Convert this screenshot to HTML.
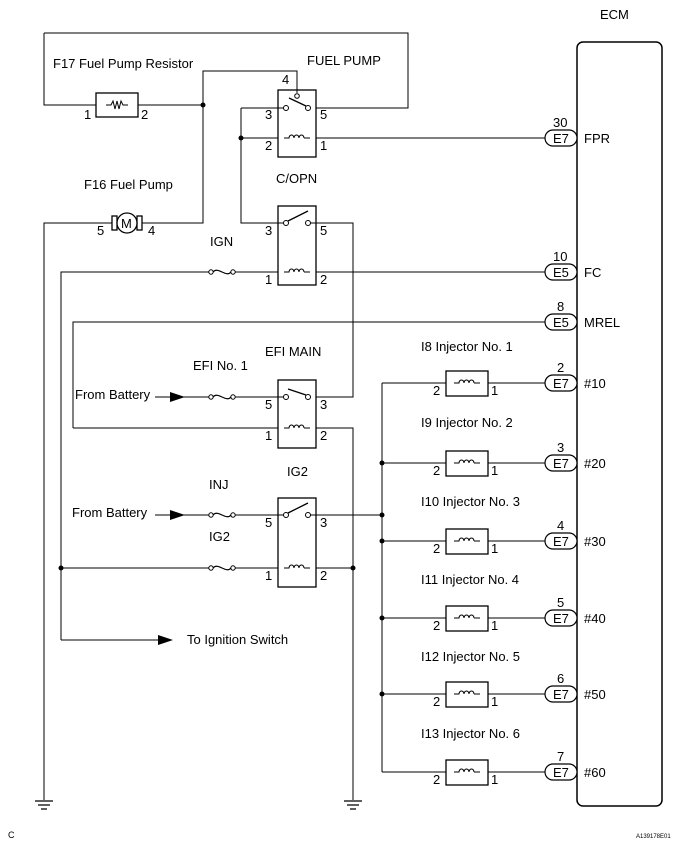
<!DOCTYPE html>
<html><head><meta charset="utf-8"><style>
html,body{margin:0;padding:0;background:#fff;}
svg{display:block;font-family:"Liberation Sans",Arial,sans-serif;}
text{font-size:13px;fill:#000;}
.s{font-size:13px;}
</style></head><body>
<svg width="691" height="849" viewBox="0 0 691 849" xmlns="http://www.w3.org/2000/svg">
<defs>
<g id="coil"><path d="M-13,0 H-8 a2.5,3 0 0 1 5,0 a2.5,3 0 0 1 5,0 a2.5,3 0 0 1 5,0 a2.5,3 0 0 1 0,0 M7,0 H13" fill="none" stroke="#000" stroke-width="1"/></g>
<g id="fuse"><circle cx="-11" cy="0" r="2.2" fill="#fff" stroke="#000"/><circle cx="11" cy="0" r="2.2" fill="#fff" stroke="#000"/><path d="M-9,0 C-4,-6 4,6 9,0" fill="none" stroke="#000" stroke-width="1.2"/></g>
<g id="conn"><rect x="-16" y="-8" width="32" height="16" rx="8" fill="#fff" stroke="#000" stroke-width="1.2"/></g>
<g id="gnd"><path d="M-9,0 H9 M-6,4 H6 M-3,8 H3" stroke="#000" stroke-width="1.3"/></g>
</defs>
<g fill="none" stroke="#000" stroke-width="1">
<rect x="577" y="42" width="85" height="764" rx="6" stroke-width="1.5"/>
<path d="M44,33 H408 V108 H316"/>
<path d="M44,33 V105 H96 M138,105 H203"/>
<rect x="96" y="93" width="42" height="24" stroke-width="1.3"/>
<path d="M203,105 V71 H297 V93"/>
<rect x="278" y="90" width="38" height="67" stroke-width="1.3"/>
<path d="M241,108 H284 M241,108 V223 H284 M241,138 H278 M316,138 H561"/>
<path d="M44,800 V223 H113 M141,223 H203 V105"/>
<rect x="278" y="206" width="38" height="79" stroke-width="1.3"/>
<path d="M310,223 H353 V397 H316"/>
<path d="M61,640 V272 H211 M233,272 H278 M316,272 H561"/>
<path d="M73,428 V322 H561"/>
<path d="M73,428 H278 M316,428 H353 V800"/>
<rect x="278" y="380" width="38" height="68" stroke-width="1.3"/>
<path d="M155,397 H211 M233,397 H284"/>
<rect x="278" y="498" width="38" height="89" stroke-width="1.3"/>
<path d="M155,515 H211 M233,515 H284 M310,515 H382"/>
<path d="M61,568 H211 M233,568 H278 M316,568 H353"/>
<path d="M61,640 H160"/>
<path d="M382,383 V772"/>
<path d="M382,383 H446 M488,383 H561 M382,463 H446 M488,463 H561 M382,541 H446 M488,541 H561 M382,618 H446 M488,618 H561 M382,694 H446 M488,694 H561 M382,772 H446 M488,772 H561"/>
<g stroke-width="1.3">
<rect x="446" y="371" width="42" height="25"/><rect x="446" y="451" width="42" height="25"/><rect x="446" y="529" width="42" height="25"/><rect x="446" y="606" width="42" height="25"/><rect x="446" y="682" width="42" height="25"/><rect x="446" y="760" width="42" height="25"/>
</g>
</g>
<g fill="#fff" stroke="#000" stroke-width="1">
<circle cx="286" cy="108" r="2.5"/><circle cx="308" cy="108" r="2.5"/><path d="M289,98 L306,106" fill="none" stroke-width="1.3"/><circle cx="297" cy="96" r="2.3"/>
<circle cx="286" cy="223" r="2.5"/><circle cx="308" cy="223" r="2.5"/><path d="M288,221 L308,211" fill="none" stroke-width="1.3"/>
<circle cx="286" cy="397" r="2.5"/><circle cx="308" cy="397" r="2.5"/><path d="M288,389 L306,395" fill="none" stroke-width="1.3"/>
<circle cx="286" cy="515" r="2.5"/><circle cx="308" cy="515" r="2.5"/><path d="M288,513 L308,503" fill="none" stroke-width="1.3"/>
</g>
<path d="M106,105 H111 l2,-4 2,8 2,-8 2,8 2,-8 2,4 H128" fill="none" stroke="#000"/>
<g fill="#fff" stroke="#000" stroke-width="1.3">
<rect x="112" y="216" width="5" height="14"/><rect x="137" y="216" width="5" height="14"/>
<circle cx="127" cy="223" r="10"/>
</g>
<text x="121" y="228" class="s">M</text>
<use href="#coil" x="297" y="138"/><use href="#coil" x="297" y="272"/><use href="#coil" x="297" y="428"/><use href="#coil" x="297" y="568"/>
<use href="#coil" x="467" y="383"/><use href="#coil" x="467" y="463"/><use href="#coil" x="467" y="541"/><use href="#coil" x="467" y="618"/><use href="#coil" x="467" y="694"/><use href="#coil" x="467" y="772"/>
<use href="#fuse" x="222" y="272"/><use href="#fuse" x="222" y="397"/><use href="#fuse" x="222" y="515"/><use href="#fuse" x="222" y="568"/>
<path d="M170,392 L185,397 L170,402 Z M170,510 L185,515 L170,520 Z M158,635 L173,640 L158,645 Z" fill="#000"/>
<g fill="#000"><circle cx="203" cy="105" r="2.5"/><circle cx="241" cy="138" r="2.5"/><circle cx="61" cy="568" r="2.5"/><circle cx="353" cy="568" r="2.5"/><circle cx="382" cy="463" r="2.5"/><circle cx="382" cy="515" r="2.5"/><circle cx="382" cy="541" r="2.5"/><circle cx="382" cy="618" r="2.5"/><circle cx="382" cy="694" r="2.5"/></g>
<use href="#gnd" x="44" y="801"/><use href="#gnd" x="353" y="801"/>
<use href="#conn" x="561" y="138"/><use href="#conn" x="561" y="272"/><use href="#conn" x="561" y="322"/>
<use href="#conn" x="561" y="383"/><use href="#conn" x="561" y="463"/><use href="#conn" x="561" y="541"/><use href="#conn" x="561" y="618"/><use href="#conn" x="561" y="694"/><use href="#conn" x="561" y="772"/>
<g class="s">
<text x="553" y="143">E7</text><text x="553" y="277">E5</text><text x="553" y="327">E5</text>
<text x="553" y="388">E7</text><text x="553" y="468">E7</text><text x="553" y="546">E7</text><text x="553" y="623">E7</text><text x="553" y="699">E7</text><text x="553" y="777">E7</text>
<text x="553" y="127">30</text><text x="553" y="261">10</text><text x="557" y="311">8</text>
<text x="557" y="372">2</text><text x="557" y="452">3</text><text x="557" y="530">4</text><text x="557" y="607">5</text><text x="557" y="683">6</text><text x="557" y="761">7</text>
<text x="584" y="143">FPR</text><text x="584" y="277">FC</text><text x="584" y="327">MREL</text>
<text x="584" y="388">#10</text><text x="584" y="468">#20</text><text x="584" y="546">#30</text><text x="584" y="623">#40</text><text x="584" y="699">#50</text><text x="584" y="777">#60</text>
<text x="600" y="19">ECM</text>
<text x="53" y="68">F17 Fuel Pump Resistor</text>
<text x="307" y="65">FUEL PUMP</text>
<text x="84" y="119">1</text><text x="141" y="119">2</text>
<text x="282" y="84">4</text>
<text x="265" y="119">3</text><text x="320" y="119">5</text><text x="265" y="150">2</text><text x="320" y="150">1</text>
<text x="84" y="189">F16 Fuel Pump</text>
<text x="276" y="183">C/OPN</text>
<text x="97" y="235">5</text><text x="148" y="235">4</text>
<text x="210" y="246">IGN</text>
<text x="265" y="235">3</text><text x="320" y="235">5</text><text x="265" y="284">1</text><text x="320" y="284">2</text>
<text x="265" y="356">EFI MAIN</text>
<text x="193" y="370">EFI No. 1</text>
<text x="75" y="399">From Battery</text>
<text x="265" y="409">5</text><text x="320" y="409">3</text><text x="265" y="440">1</text><text x="320" y="440">2</text>
<text x="287" y="476">IG2</text>
<text x="209" y="489">INJ</text>
<text x="72" y="517">From Battery</text>
<text x="209" y="541">IG2</text>
<text x="265" y="527">5</text><text x="320" y="527">3</text><text x="265" y="580">1</text><text x="320" y="580">2</text>
<text x="187" y="644">To Ignition Switch</text>
<text x="421" y="351">I8 Injector No. 1</text>
<text x="421" y="427">I9 Injector No. 2</text>
<text x="421" y="506">I10 Injector No. 3</text>
<text x="421" y="584">I11 Injector No. 4</text>
<text x="421" y="661">I12 Injector No. 5</text>
<text x="421" y="738">I13 Injector No. 6</text>
</g>
<g style="font-size:12px">
<text x="433" y="395">2</text><text x="491" y="395">1</text><text x="433" y="475">2</text><text x="491" y="475">1</text><text x="433" y="553">2</text><text x="491" y="553">1</text><text x="433" y="630">2</text><text x="491" y="630">1</text><text x="433" y="706">2</text><text x="491" y="706">1</text><text x="433" y="784">2</text><text x="491" y="784">1</text>
</g>
<text x="8" y="838" style="font-size:9px">C</text>
<text x="636" y="838" style="font-size:6px">A139178E01</text>
</svg>
</body></html>
